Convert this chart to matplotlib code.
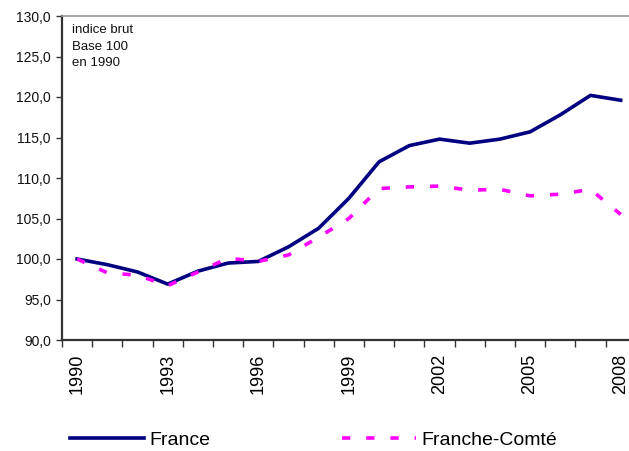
import numpy as np
import matplotlib
matplotlib.use("Agg")
import matplotlib.pyplot as plt
from matplotlib.ticker import FixedLocator, NullFormatter

plt.rcParams['font.family'] = ['Liberation Sans', 'DejaVu Sans']

annees = list(range(1990, 2009))
france = [100.0, 99.3, 98.4, 96.9, 98.5, 99.5, 99.7, 101.5, 103.8, 107.5,
          112.0, 114.0, 114.8, 114.3, 114.8, 115.7, 117.8, 120.2, 119.6]
franche_comte = [100.0, 98.3, 98.0, 96.7, 98.4, 100.1, 99.7, 100.5, 102.7, 105.0,
                 108.7, 108.9, 109.0, 108.5, 108.6, 107.8, 108.0, 108.6, 105.5]
etiquettes_x = ['1990', '1993', '1996', '1999', '2002', '2005', '2008']
yticks = [90, 95, 100, 105, 110, 115, 120, 125, 130]

fig = plt.figure(figsize=(6.29, 4.51), dpi=100)
# axis continues past the right edge of the picture (cropped, like the original)
ax = fig.add_axes([62/629, 1 - 340/451, 573.8/629, 324/451])

x = np.arange(len(annees))
lw = 2.6
ax.plot(x, france, color='#000080', lw=lw, label='France')
ax.plot(x, franche_comte, color='#FF00FF', lw=lw, dashes=(2.3, 4.4),
        dash_capstyle='butt', label='Franche-Comté')

ax.set_xlim(-0.5, len(annees) - 0.5)
ax.set_ylim(90, 130)

ax.set_yticks(yticks)
ax.set_yticklabels([f"{v:.1f}".replace('.', ',') for v in yticks], fontsize=10, color='#111111')
ax.tick_params(axis='y', direction='out', length=4, width=1, color='#333333', pad=4)

# tick marks between categories, labels every 3 years
ax.xaxis.set_major_locator(FixedLocator(np.arange(-0.5, len(annees), 1)))
ax.xaxis.set_major_formatter(NullFormatter())
ax.set_xticks([annees.index(int(a)) for a in etiquettes_x], minor=True)
ax.set_xticklabels(etiquettes_x, minor=True, rotation=90, fontsize=13, color='#000000')
ax.tick_params(axis='x', which='major', direction='out', length=5, width=1, color='#333333')
ax.tick_params(axis='x', which='minor', length=0, pad=10)

ax.spines['left'].set_color('#333333')
ax.spines['left'].set_linewidth(1.6)
ax.spines['bottom'].set_color('#333333')
ax.spines['bottom'].set_linewidth(1.6)
ax.spines['top'].set_color('#999999')
ax.spines['top'].set_linewidth(1.2)
ax.spines['right'].set_visible(False)

ax.text(0.017, 0.975, "indice brut\nBase 100\nen 1990", transform=ax.transAxes,
        fontsize=9.5, va='top', ha='left', linespacing=1.5, color='#111111')

fig.legend(loc='center left', bbox_to_anchor=(70/629, 1 - 440/451), ncol=2,
           frameon=False, fontsize=14, handlelength=3.8, handletextpad=0.3,
           columnspacing=6.75, borderpad=0, borderaxespad=0)

fig.savefig('out.png', dpi=100)
